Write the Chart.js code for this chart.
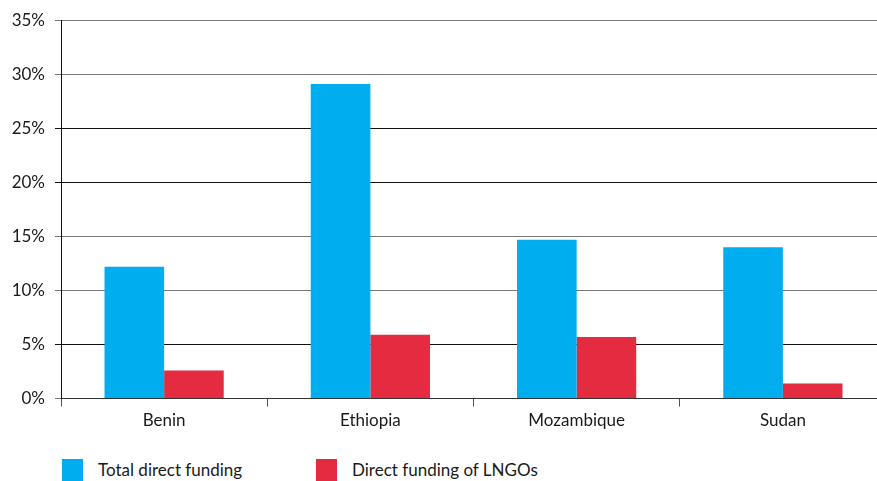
<!DOCTYPE html>
<html>
<head>
<meta charset="utf-8">
<script src="https://cdn.jsdelivr.net/npm/chart.js@4/dist/chart.umd.min.js"></script>
<style>
  html, body { margin: 0; padding: 0; background: #fff; overflow: hidden; width: 877px; height: 481px; }
  #wrap { position: absolute; left: 0; top: 0; width: 886px; height: 445px; }
  #legend { position: absolute; left: 62px; top: 459px; font-family: Lato, "Open Sans", sans-serif; font-size: 17px; color: #1a1a1a; }
  .item { position: absolute; top: 0; white-space: nowrap; }
  .box { position: absolute; left: 0; top: 0; width: 21px; height: 22px; }
  .lbl { position: absolute; left: 36px; top: 1px; line-height: 20px; }
</style>
</head>
<body>
<div id="wrap"><canvas id="c"></canvas></div>
<div id="legend"></div>
<script>
const categories = ["Benin", "Ethiopia", "Mozambique", "Sudan"];
const totalDirect = [12.2, 29.1, 14.7, 14.0];
const directLNGO = [2.6, 5.9, 5.7, 1.4];
const seriesNames = ["Total direct funding", "Direct funding of LNGOs"];
const seriesColors = ["#00adef", "#e52b3f"];
const yTicks = [0, 5, 10, 15, 20, 25, 30, 35];

const ctx = document.getElementById('c');
const chart = new Chart(ctx, {
  type: 'bar',
  data: {
    labels: categories,
    datasets: [
      { label: seriesNames[0], data: totalDirect, backgroundColor: seriesColors[0], borderWidth: 0 },
      { label: seriesNames[1], data: directLNGO, backgroundColor: seriesColors[1], borderWidth: 0 }
    ]
  },
  options: {
    responsive: true,
    maintainAspectRatio: false,
    animation: false,
    layout: { padding: { top: 19, right: 0, bottom: 10, left: 0 } },
    plugins: { legend: { display: false }, tooltip: { enabled: false } },
    datasets: { bar: { categoryPercentage: 0.578, barPercentage: 1.0 } },
    scales: {
      x: {
        offset: true,
        grid: { offset: true, drawOnChartArea: false, drawTicks: true, tickLength: 8, color: '#555', lineWidth: 1 },
        border: { display: true, color: '#333', width: 1 },
        ticks: { color: '#1a1a1a', font: { family: 'Lato, "Open Sans", sans-serif', size: 17 }, padding: 4 }
      },
      y: {
        min: 0, max: 35,
        afterFit: (s) => { s.width = 61; },
        afterBuildTicks: (s) => { s.ticks = yTicks.map(v => ({ value: v })); },
        grid: {
          drawTicks: true, tickLength: 6, lineWidth: 1,
          color: (c) => ([5, 20, 25].includes(c.tick && c.tick.value) ? '#111' : '#777')
        },
        border: { display: true, color: '#111', width: 1 },
        ticks: {
          color: '#1a1a1a', padding: 10,
          font: { family: 'Lato, "Open Sans", sans-serif', size: 17 },
          callback: (v) => v + '%'
        }
      }
    }
  }
});

const lg = document.getElementById('legend');
const offsets = [0, 254];
seriesNames.forEach((n, i) => {
  const it = document.createElement('div');
  it.className = 'item';
  it.style.left = offsets[i] + 'px';
  it.innerHTML = '<span class="box" style="background:' + seriesColors[i] + '"></span><span class="lbl">' + n + '</span>';
  lg.appendChild(it);
});
</script>
</body>
</html>
